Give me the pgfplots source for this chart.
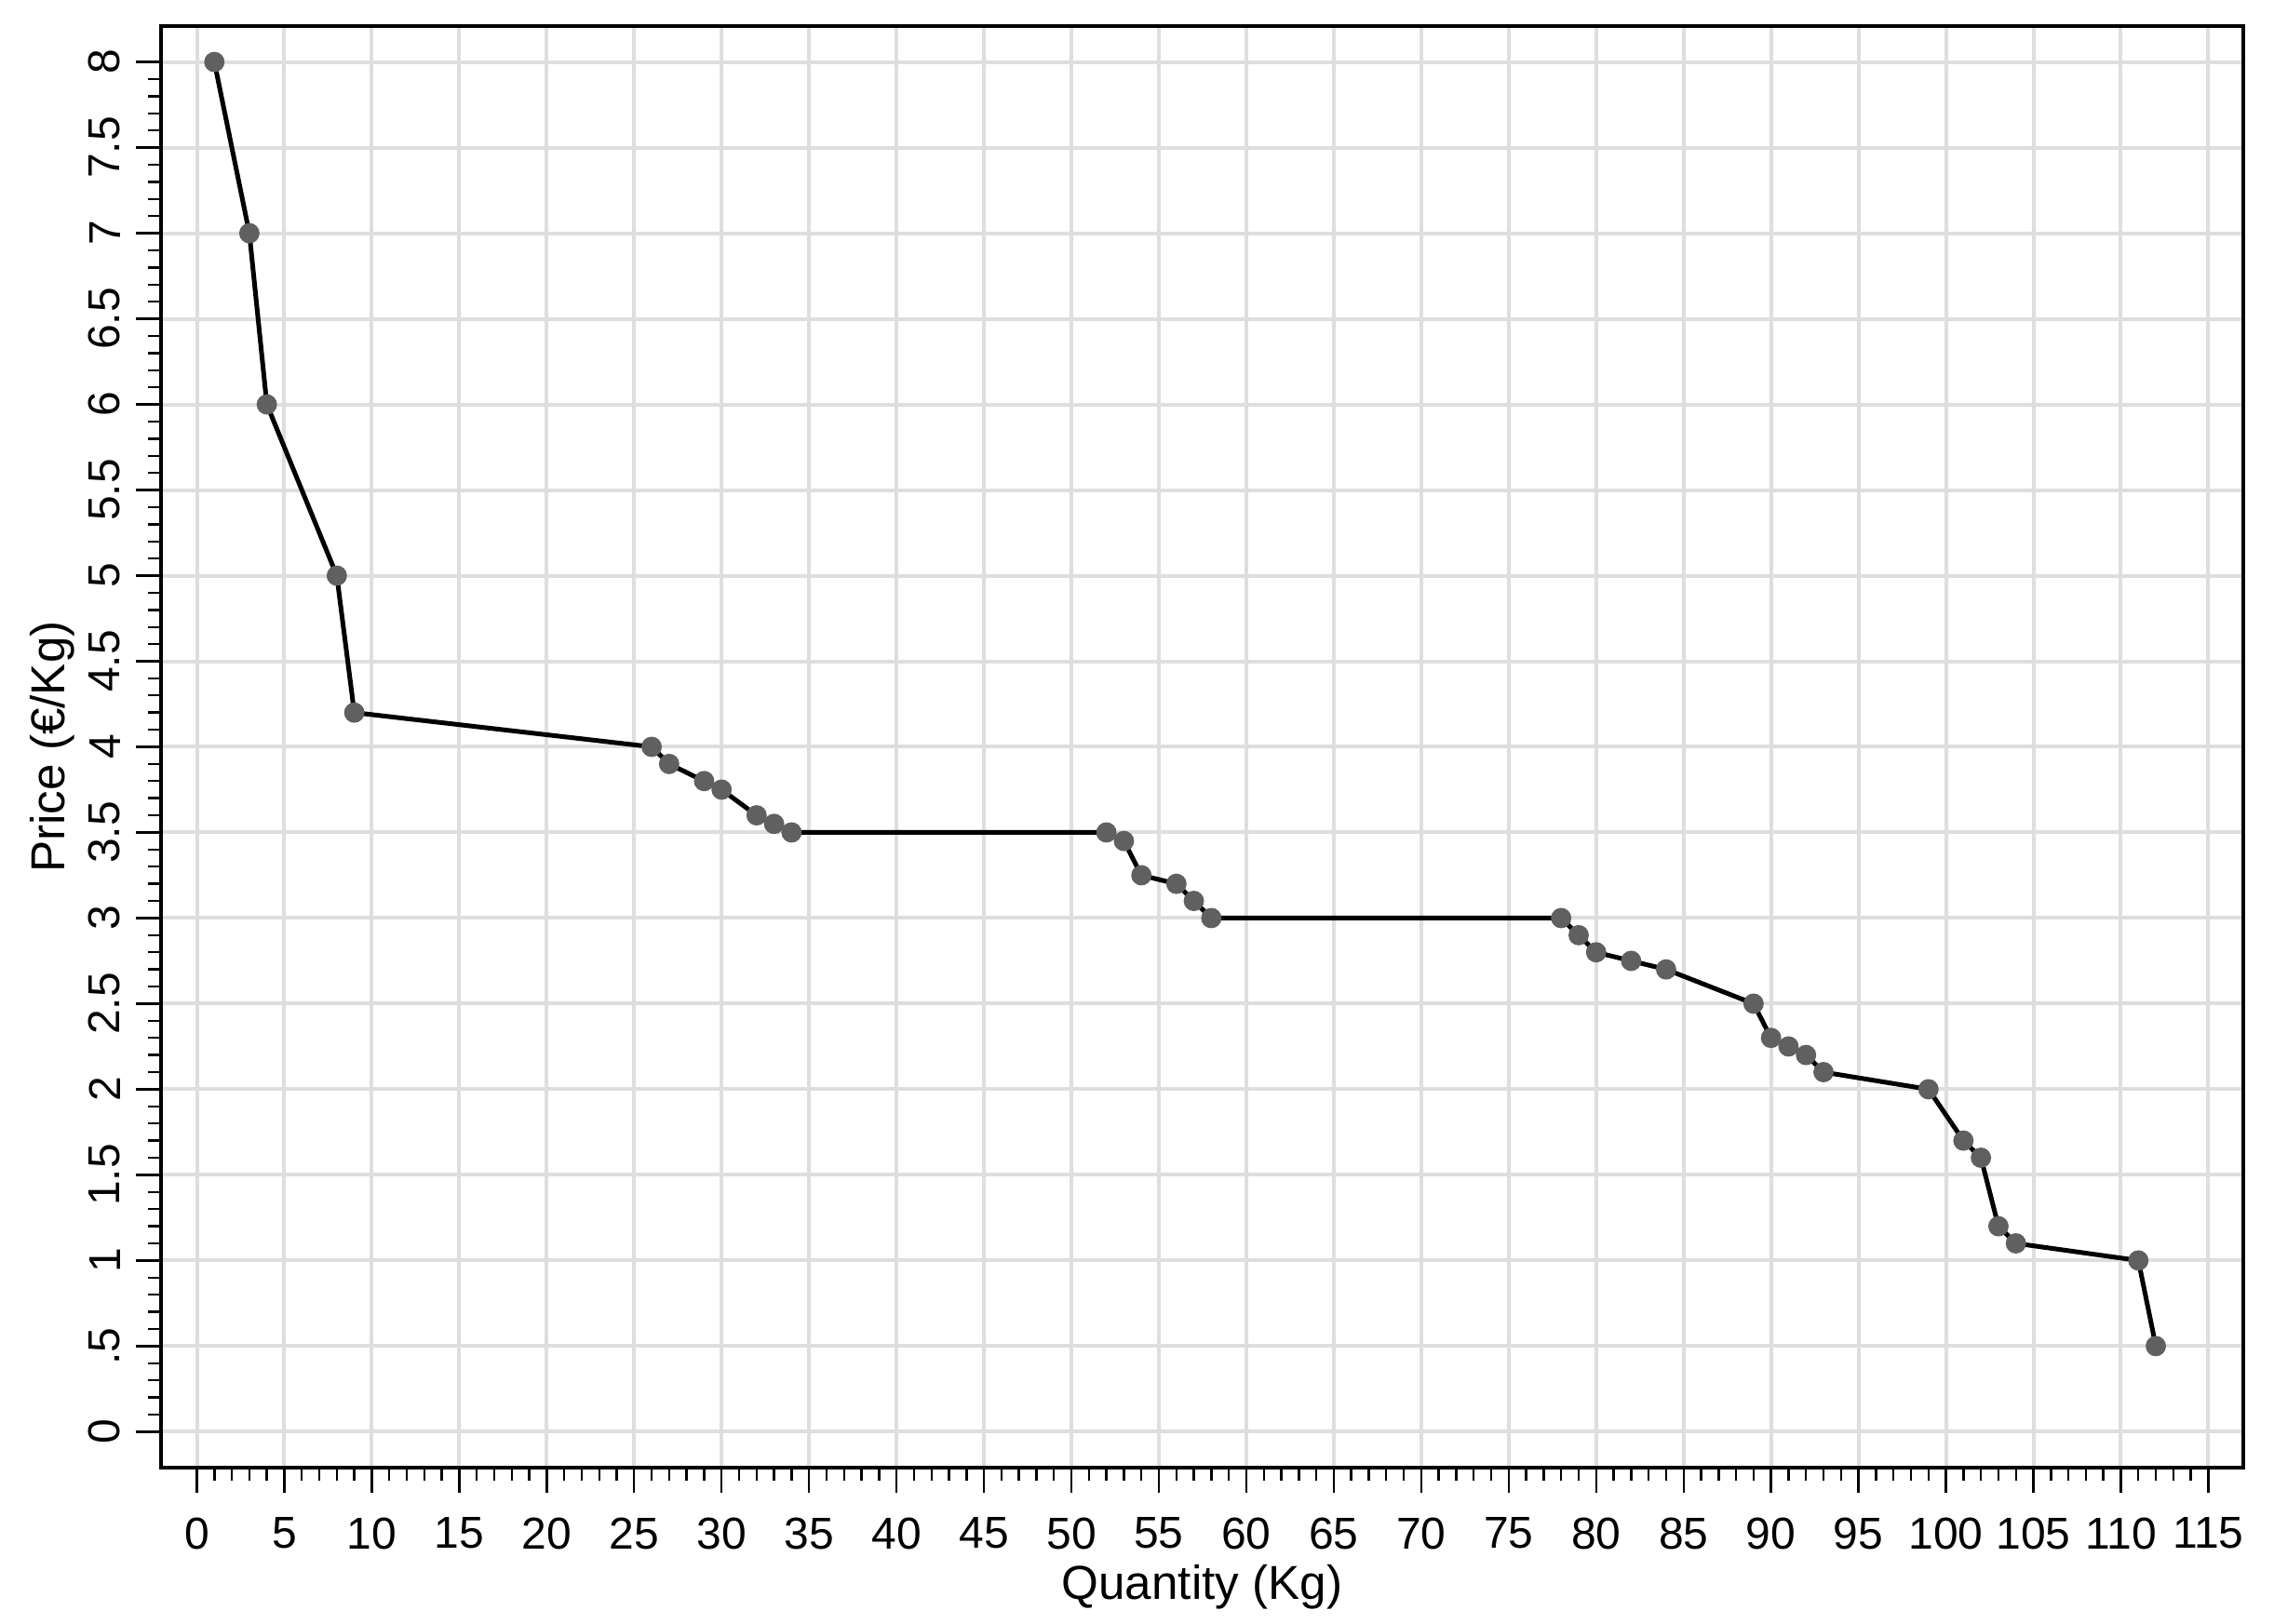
\documentclass[border=0pt,12pt]{standalone}
\usepackage{fontspec}
\setmainfont{Liberation Sans}
\usepackage{pgfplots}
\pgfplotsset{compat=1.18}

\definecolor{gridgray}{RGB}{222,222,222}
\definecolor{markgray}{RGB}{96,96,96}

\begin{document}
\begin{tikzpicture}
\begin{axis}[
    scale only axis,
    width=559.25pt, height=387.25pt,
    xmin=-2.05, xmax=117, ymin=-0.21, ymax=8.21,
    xtick={0,5,...,115},
    minor x tick num=4,
    ytick={0,0.5,...,8},
    yticklabels={0,.5,1,1.5,2,2.5,3,3.5,4,4.5,5,5.5,6,6.5,7,7.5,8},
    minor y tick num=4,
    tick align=outside,
    tick pos=left,
    major tick length=6.75pt,
    minor tick length=3.5pt,
    every tick/.style={black, line width=0.6pt},
    axis line style={black, line width=1pt},
    grid=major,
    major grid style={gridgray, line width=1pt},
    /pgf/number format/assume math mode=true,
    tick label style={font=\fontsize{12}{14}\selectfont},
    xticklabel style={yshift=-2.5pt},
    yticklabel style={rotate=90, anchor=south, xshift=0pt},
    label style={font=\fontsize{12.8}{15}\selectfont},
    xlabel={Quantity (Kg)},
    ylabel={Price (€/Kg)},
    xlabel style={yshift=4pt},
    ylabel style={yshift=-4.5pt},
]
\addplot[black, line width=1.25pt, mark=*, mark size=2.1pt,
         mark options={fill=markgray, draw=markgray}] coordinates {
(1,8) (3,7) (4,6) (8,5) (9,4.2) (26,4) (27,3.9) (29,3.8) (30,3.75)
(32,3.6) (33,3.55) (34,3.5) (52,3.5) (53,3.45) (54,3.25) (56,3.2)
(57,3.1) (58,3.0) (78,3.0) (79,2.9) (80,2.8) (82,2.75) (84,2.7)
(89,2.5) (90,2.3) (91,2.25) (92,2.2) (93,2.1) (99,2.0) (101,1.7)
(102,1.6) (103,1.2) (104,1.1) (111,1.0) (112,0.5)
};
\end{axis}
\pgfresetboundingbox
\path[use as bounding box] ([xshift=-43.25pt,yshift=-42pt]current axis.south west)
    rectangle ([xshift=8.25pt,yshift=7pt]current axis.north east);
\end{tikzpicture}
\end{document}
